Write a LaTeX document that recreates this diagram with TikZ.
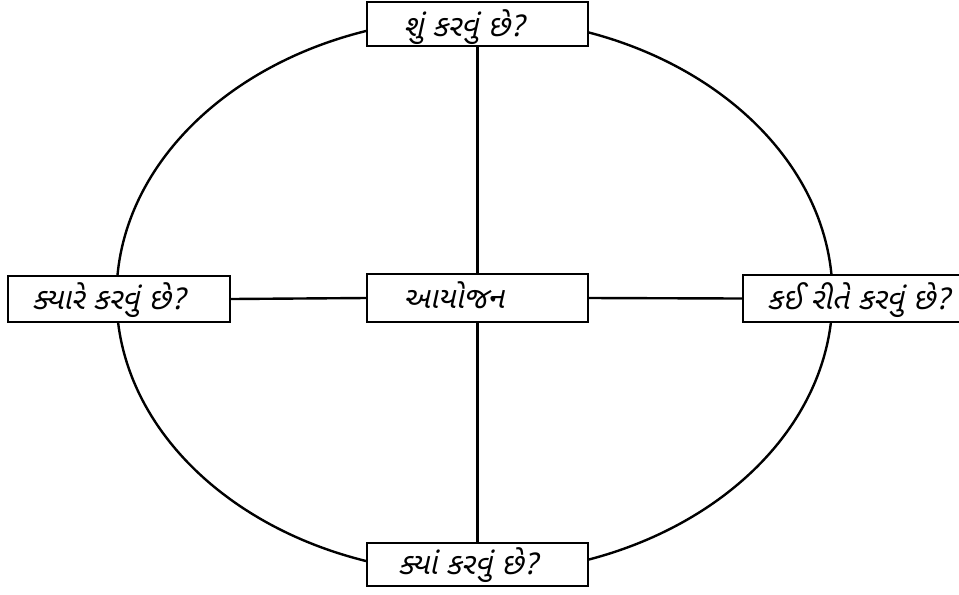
\documentclass[tikz,border=0pt]{standalone}
\usepackage{fontspec}
\newfontfamily\guj[Script=Gujarati,FakeSlant=0.22]{Noto Sans Gujarati UI}
\begin{document}
\begin{tikzpicture}[x=0.75pt,y=-0.75pt,
  box/.style={draw,line width=1.8pt,fill=white,inner sep=0pt},
  lbl/.style={anchor=base west,inner sep=0pt,font=\guj\fontsize{22.5}{26}\selectfont},
  conn/.style={line width=1.8pt}]
\useasboundingbox (0,0) rectangle (959,594);
\clip (0,0) rectangle (959,594);
\draw[line width=1.8pt] (474.5,296) ellipse [x radius=268.5pt, y radius=208.5pt];
\node[box,minimum width=165.75pt,minimum height=33pt] (top) at (477.5,24) {};
\node[box,minimum width=166.5pt,minimum height=34.5pt] (left) at (119,299) {};
\node[box,minimum width=165.75pt,minimum height=36pt] (mid) at (477.5,298) {};
\node[box,minimum width=166.5pt,minimum height=35pt] (right) at (854,298.5) {};
\node[box,minimum width=165.75pt,minimum height=32.25pt] (bot) at (477.5,564.5) {};
\node[lbl] (ttop) at (403,36) {શું કરવું છે?};
\node[lbl] (tleft) at (32,309) {ક્યારે કરવું છે?};
\node[lbl] (tmid) at (403,308) {આયોજન};
\node[lbl] (tright) at (767,309) {કઈ રીતે કરવું છે?};
\node[lbl] (tbot) at (398,574) {ક્યાં કરવું છે?};
\draw[conn] (top.south) -- (mid.north);
\draw[conn] (mid.south) -- (bot.north);
\draw[conn] (left.east) -- (mid.west);
\draw[conn] (mid.east) -- (right.west);
\end{tikzpicture}
\end{document}
